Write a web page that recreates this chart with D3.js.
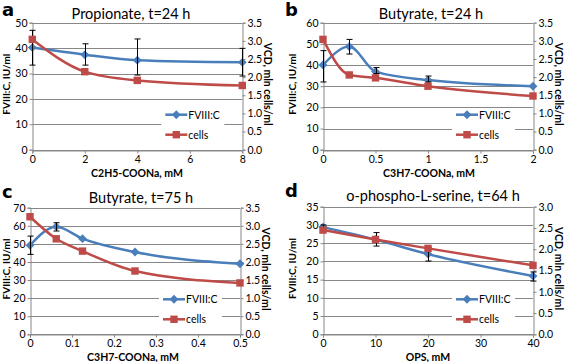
<!DOCTYPE html>
<html>
<head>
<meta charset="utf-8">
<script src="https://cdn.jsdelivr.net/npm/d3@7"></script>
<style>
  body { margin: 0; background: #fff; }
  svg text { font-family: Lato, "Open Sans", sans-serif; fill: #000; }
</style>
</head>
<body>
<div id="chart"></div>
<script>
// panel a: propionate, t=24 h
const xA = [0, 2, 4, 8];
const fviiiA = [40.2, 37.4, 35.2, 34.4];
const loA = [33.3, 33.3, 29.4, 29.0];
const hiA = [47.0, 41.7, 43.6, 39.9];
const cellsA = [3.04, 2.15, 1.91, 1.77];
const xTicksA = [0, 2, 4, 6, 8];

// panel b: butyrate, t=24 h
const xB = [0, 0.25, 0.5, 1, 2];
const fviiiB = [40.0, 48.7, 36.9, 32.9, 30.0];
const loB = [32.0, 45.2, 36.0, 32.0, null];
const hiB = [46.8, 52.1, 38.8, 34.8, null];
const cellsB = [3.04, 2.06, 1.98, 1.75, 1.48];
const xTicksB = [0, 0.5, 1, 1.5, 2];

// panel c: butyrate, t=75 h
const xC = [0, 0.0625, 0.125, 0.25, 0.5];
const fviiiC = [49.2, 59.5, 52.9, 45.5, 39.0];
const loC = [44.2, 57.1, null, null, null];
const hiC = [54.3, 61.7, null, null, null];
const cellsC = [3.25, 2.64, 2.30, 1.75, 1.42];
const xTicksC = [0, 0.1, 0.2, 0.3, 0.4, 0.5];

// panel d: o-phospho-L-serine, t=64 h
const xD = [0, 10, 20, 40];
const fviiiD = [29.4, 26.0, 22.0, 16.0];
const loD = [28.8, 24.2, 20.1, 14.6];
const hiD = [30.0, 27.9, 23.8, 17.1];
const cellsD = [2.45, 2.23, 2.02, 1.62];
const xTicksD = [0, 10, 20, 30, 40];

const seriesNames = ['FVIII:C', 'cells'];
const yLabel = 'FVIII:C, IU/ml';
const y2Label = 'VCD, mln cells/ml';

const blue = '#4a7ebb';
const red = '#be4b48';
const grid = '#878787';

const panels = [
  {letter: 'a', ox: 0, oy: 0, title: 'Propionate, t=24 h', xLabel: 'C2H5-COONa, mM',
    x: xA, fviii: fviiiA, lo: loA, hi: hiA, cells: cellsA, xTicks: xTicksA, xMax: 8,
    yMax: 50, yStep: 10, y2Max: 3.5,
    box: {left: 32.3, right: 242.3, top: 22.7, bottom: 149.7},
    titleX: 131, titleY: 18.5, letterY: 16, yLabX: 10, xLabX: 137},
  {letter: 'b', ox: 283, oy: 0, title: 'Butyrate, t=24 h', xLabel: 'C3H7-COONa, mM',
    x: xB, fviii: fviiiB, lo: loB, hi: hiB, cells: cellsB, xTicks: xTicksB, xMax: 2,
    yMax: 60, yStep: 10, y2Max: 3.5,
    box: {left: 40, right: 250, top: 22.7, bottom: 149.7},
    titleX: 148, titleY: 18.5, letterY: 16, yLabX: 13, xLabX: 146},
  {letter: 'c', ox: 0, oy: 181, title: 'Butyrate, t=75 h', xLabel: 'C3H7-COONa, mM',
    x: xC, fviii: fviiiC, lo: loC, hi: hiC, cells: cellsC, xTicks: xTicksC, xMax: 0.5,
    yMax: 70, yStep: 10, y2Max: 3.5,
    box: {left: 30, right: 240, top: 26.7, bottom: 153.3},
    titleX: 141, titleY: 22, letterY: 16.5, yLabX: 10, xLabX: 133},
  {letter: 'd', ox: 283, oy: 181, title: 'o-phospho-L-serine, t=64 h', xLabel: 'OPS, mM',
    x: xD, fviii: fviiiD, lo: loD, hi: hiD, cells: cellsD, xTicks: xTicksD, xMax: 40,
    yMax: 35, yStep: 5, y2Max: 3.0,
    box: {left: 40, right: 250, top: 25.7, bottom: 153.3},
    titleX: 150, titleY: 20, letterY: 16, yLabX: 13, xLabX: 145}
];

const svg = d3.select('#chart').append('svg')
  .attr('width', 567)
  .attr('height', 362);

svg.append('rect').attr('width', 567).attr('height', 362).attr('fill', '#fff');

const diamond = d3.symbol().type(d3.symbolDiamond2).size(50);
const square = d3.symbol().type(d3.symbolSquare2).size(70);

for (const p of panels) {
  const g = svg.append('g').attr('transform', `translate(${p.ox},${p.oy})`);
  const b = p.box;

  const x = d3.scaleLinear().domain([0, p.xMax]).range([b.left, b.right]);
  const y = d3.scaleLinear().domain([0, p.yMax]).range([b.bottom, b.top]);
  const y2 = d3.scaleLinear().domain([0, p.y2Max]).range([b.bottom, b.top]);
  const yTickVals = d3.range(0, p.yMax + 0.001, p.yStep);
  const y2TickVals = d3.range(0, p.y2Max + 0.001, 0.5);

  // gridlines
  g.append('g')
    .selectAll('line')
    .data(yTickVals)
    .join('line')
    .attr('x1', b.left).attr('x2', b.right)
    .attr('y1', d => Math.round(y(d)) + 0.5).attr('y2', d => Math.round(y(d)) + 0.5)
    .attr('stroke', grid).attr('stroke-width', 1);

  // axes
  const axL = g.append('g')
    .attr('transform', `translate(${Math.round(b.left) + 0.5},0)`)
    .call(d3.axisLeft(y).tickValues(yTickVals).tickSize(3).tickPadding(2).tickFormat(d3.format('d')));
  const axR = g.append('g')
    .attr('transform', `translate(${Math.round(b.right) + 0.5},0)`)
    .call(d3.axisRight(y2).tickValues(y2TickVals).tickSize(3).tickPadding(2).tickFormat(d3.format('.1f')));
  const axB = g.append('g')
    .attr('transform', `translate(0,${Math.round(b.bottom) + 0.5})`)
    .call(d3.axisBottom(x).tickValues(p.xTicks).tickSize(3).tickPadding(2).tickFormat(d3.format('')));
  for (const ax of [axL, axR, axB]) {
    ax.selectAll('path, line').attr('stroke', grid);
    ax.selectAll('text').style('font-size', '10.5px').attr('fill', '#000');
  }

  // legend box (blanks gridlines behind it)
  const lx = b.right - 77;
  g.append('rect')
    .attr('x', lx - 4).attr('y', b.bottom - 41)
    .attr('width', 63).attr('height', 35)
    .attr('fill', '#fff');

  const line = d3.line()
    .x((d, i) => x(p.x[i]))
    .y(d => d.y)
    .curve(d3.curveMonotoneX);

  // FVIII:C series
  g.append('path')
    .attr('d', line(p.fviii.map(v => ({y: y(v)}))))
    .attr('fill', 'none').attr('stroke', blue).attr('stroke-width', 2.5);
  g.append('g').selectAll('path')
    .data(p.fviii)
    .join('path')
    .attr('d', diamond)
    .attr('transform', (d, i) => `translate(${x(p.x[i])},${y(d)})`)
    .attr('fill', blue);

  // error bars
  const eb = g.append('g').attr('stroke', '#000').attr('stroke-width', 1);
  p.x.forEach((xv, i) => {
    if (p.lo[i] == null) return;
    const cx = Math.round(x(xv)) + 0.5;
    eb.append('line').attr('x1', cx).attr('x2', cx).attr('y1', y(p.lo[i])).attr('y2', y(p.hi[i]));
    for (const v of [p.lo[i], p.hi[i]]) {
      eb.append('line').attr('x1', cx - 3).attr('x2', cx + 3).attr('y1', y(v)).attr('y2', y(v));
    }
  });

  // cells series
  g.append('path')
    .attr('d', line(p.cells.map(v => ({y: y2(v)}))))
    .attr('fill', 'none').attr('stroke', red).attr('stroke-width', 2.5);
  g.append('g').selectAll('path')
    .data(p.cells)
    .join('path')
    .attr('d', square)
    .attr('transform', (d, i) => `translate(${x(p.x[i])},${y2(d)})`)
    .attr('fill', red);

  // legend entries
  seriesNames.forEach((name, i) => {
    const ly = b.bottom - 35 + i * 20;
    const col = i === 0 ? blue : red;
    g.append('line')
      .attr('x1', lx).attr('x2', lx + 22).attr('y1', ly).attr('y2', ly)
      .attr('stroke', col).attr('stroke-width', 2.5);
    g.append('path')
      .attr('d', i === 0 ? diamond : square)
      .attr('transform', `translate(${lx + 11},${ly})`)
      .attr('fill', col);
    g.append('text')
      .attr('x', lx + 23).attr('y', ly + 4)
      .style('font-size', '10.5px')
      .text(name);
  });

  // titles and labels
  g.append('text')
    .attr('x', p.titleX).attr('y', p.titleY)
    .attr('text-anchor', 'middle')
    .style('font-size', '14.5px')
    .text(p.title);
  g.append('text')
    .attr('x', 2).attr('y', p.letterY)
    .style('font-family', '"DejaVu Sans", sans-serif')
    .style('font-weight', 'bold')
    .style('font-size', '18px')
    .text(p.letter);
  g.append('text')
    .attr('transform', `translate(${p.yLabX},${(b.top + b.bottom) / 2 - 2}) rotate(-90)`)
    .attr('text-anchor', 'middle')
    .style('font-weight', 'bold')
    .style('font-size', '10px')
    .text(yLabel);
  g.append('text')
    .attr('transform', `translate(${b.right + 22},${(b.top + b.bottom) / 2 - 2}) rotate(90)`)
    .attr('text-anchor', 'middle')
    .style('font-weight', 'bold')
    .style('font-size', '10.5px')
    .text(y2Label);
  g.append('text')
    .attr('x', p.xLabX).attr('y', b.bottom + 27)
    .attr('text-anchor', 'middle')
    .style('font-weight', 'bold')
    .style('font-size', '10.5px')
    .text(p.xLabel);
}
</script>
</body>
</html>
